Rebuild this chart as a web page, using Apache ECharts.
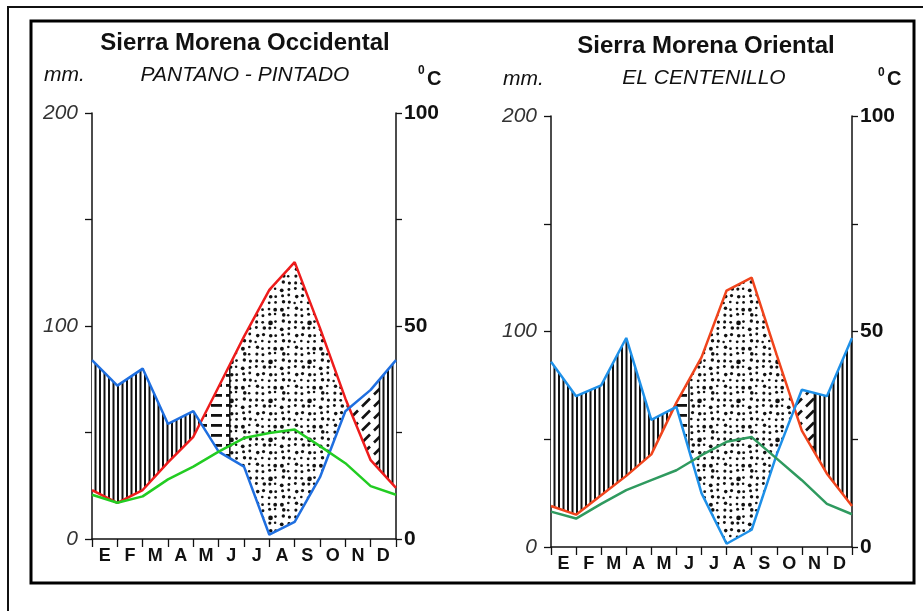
<!DOCTYPE html>
<html>
<head>
<meta charset="utf-8">
<script src="https://cdn.jsdelivr.net/npm/echarts@6/dist/echarts.min.js"></script>
<style>
html, body { margin: 0; padding: 0; background: #fff; }
#chart { width: 923px; height: 611px; }
</style>
</head>
<body>
<div id="chart"></div>
<script>
// meses (etiquetas del eje X)
var meses = ['E', 'F', 'M', 'A', 'M', 'J', 'J', 'A', 'S', 'O', 'N', 'D'];

// Sierra Morena Occidental - Pantano Pintado (13 puntos, en los limites de mes)
var precOcc = [84, 72, 80, 54, 60, 41, 34, 2, 8, 29, 60, 70, 84];          // mm
var etpOcc  = [23, 17, 23, 36, 48, 71.5, 95, 117, 130, 99, 66, 37, 24];    // mm
var tempOcc = [10.4, 8.5, 10, 14, 17, 20.5, 23.7, 24.9, 25.7, 21.8, 17.8, 12.4, 10.4]; // ºC
var usoFinOcc = 5.44, recargaFinOcc = 11.35;

// Sierra Morena Oriental - El Centenillo
var precOri = [86, 70, 75, 97, 59, 65, 25, 1.5, 8, 43, 73, 70, 97];
var etpOri  = [19, 15, 24, 33, 43, 67, 88, 119, 125, 89, 54, 34, 19];
var tempOri = [8.2, 6.6, 10, 13.2, 15.5, 17.8, 21.3, 24.4, 25.5, 20.5, 15.5, 10, 7.6];
var usoFinOri = 5.5, recargaFinOri = 10.5;

var chart = echarts.init(document.getElementById('chart'));

// tramas de relleno
function hacerCanvas(w, h, dibujar) {
	var c = document.createElement('canvas');
	c.width = w; c.height = h;
	var ctx = c.getContext('2d');
	ctx.fillStyle = '#fff';
	ctx.fillRect(0, 0, w, h);
	ctx.fillStyle = '#111';
	ctx.strokeStyle = '#111';
	dibujar(ctx);
	return c;
}
var tramas = {
	vert: hacerCanvas(9, 9, function (ctx) {
		ctx.fillRect(0, 0, 2, 9);
		ctx.fillRect(4.5, 0, 2, 9);
	}),
	hdash: hacerCanvas(15, 10, function (ctx) {
		ctx.fillRect(1, 4, 11, 2.8);
	}),
	diag: hacerCanvas(12, 12, function (ctx) {
		ctx.lineWidth = 2.6;
		ctx.beginPath();
		ctx.moveTo(2, 10.5);
		ctx.lineTo(10, 2.5);
		ctx.stroke();
	}),
	dots: hacerCanvas(39, 39, function (ctx) {
		for (var i = 0; i < 6; i++) {
			for (var j = 0; j < 6; j++) {
				var h = Math.sin(i * 12.9898 + j * 78.233) * 43758.5453;
				h = h - Math.floor(h);
				var g = Math.sin(i * 39.346 + j * 11.135) * 24634.6345;
				g = g - Math.floor(g);
				var r = 1.25 + h * 0.6 + (g > 0.9 ? 0.6 : 0);
				ctx.beginPath();
				ctx.arc(i * 6.5 + 3.25 + (h - 0.5) * 2.4, j * 6.5 + 3.25 + (g - 0.5) * 2.4, r, 0, Math.PI * 2);
				ctx.fill();
			}
		}
	})
};

function valor(arr, x) {
	var i = Math.min(Math.floor(x), arr.length - 2);
	var t = x - i;
	return arr[i] + (arr[i + 1] - arr[i]) * t;
}
function cruces(p, e) {
	var res = [];
	for (var i = 0; i < p.length - 1; i++) {
		var d0 = p[i] - e[i], d1 = p[i + 1] - e[i + 1];
		if (d0 * d1 < 0) res.push(i + d0 / (d0 - d1));
	}
	return res;
}

function serieRelleno(idx, p, e, usoFin, recargaFin) {
	var c = cruces(p, e);
	var regiones = [
		{x0: 0, x1: c[0], trama: 'vert'},
		{x0: c[0], x1: usoFin, trama: 'hdash'},
		{x0: usoFin, x1: c[1], trama: 'dots', borde: true},
		{x0: c[1], x1: recargaFin, trama: 'diag'},
		{x0: recargaFin, x1: 12, trama: 'vert', borde: true}
	];
	return {
		type: 'custom',
		xAxisIndex: idx * 2,
		yAxisIndex: idx * 2,
		z: 1,
		silent: true,
		data: regiones.map(function (r, i) { return [i, 0]; }),
		renderItem: function (params, api) {
			var r = regiones[params.dataIndex];
			var xs = [r.x0, r.x1];
			for (var i = 1; i < p.length - 1; i++) if (i > r.x0 && i < r.x1) xs.push(i);
			c.forEach(function (x) { if (x > r.x0 && x < r.x1) xs.push(x); });
			xs.sort(function (a, b) { return a - b; });
			var arriba = xs.map(function (x) { return api.coord([x, Math.max(valor(p, x), valor(e, x))]); });
			var abajo = xs.slice().reverse().map(function (x) { return api.coord([x, Math.min(valor(p, x), valor(e, x))]); });
			var hijos = [{
				type: 'polygon',
				shape: {points: arriba.concat(abajo)},
				style: {fill: {image: tramas[r.trama], repeat: 'repeat'}, stroke: null}
			}];
			if (r.borde) {
				var fondo = abajo[abajo.length - 1];
				hijos.push({
					type: 'line',
					shape: {x1: arriba[0][0], y1: arriba[0][1], x2: fondo[0], y2: fondo[1]},
					style: {stroke: '#111', lineWidth: 1.5}
				});
			}
			return {type: 'group', children: hijos};
		}
	};
}

function serieLinea(datos, color, xIdx, yIdx) {
	return {
		type: 'line',
		xAxisIndex: xIdx,
		yAxisIndex: yIdx,
		data: datos.map(function (v, i) { return [i, v]; }),
		symbol: 'none',
		lineStyle: {color: color, width: 2.5},
		z: 5,
		silent: true
	};
}

var ejeNegro = {show: true, lineStyle: {color: '#111', width: 1.5}};

function ejesX(grid) {
	return [
		{gridIndex: grid, type: 'value', min: 0, max: 12, show: false},
		{
			gridIndex: grid, type: 'category', data: meses, boundaryGap: true, position: 'bottom',
			axisLine: ejeNegro,
			axisTick: {show: true, length: 8, inside: false, lineStyle: {color: '#111', width: 1.3}},
			axisLabel: {color: '#111', fontSize: 18, fontWeight: 'bold', fontFamily: 'Liberation Sans', margin: 8},
			splitLine: {show: false}
		}
	];
}
function ejesY(grid) {
	return [
		{
			gridIndex: grid, type: 'value', min: 0, max: 200, interval: 50, position: 'left',
			axisLine: ejeNegro,
			axisTick: {show: true, length: 7, inside: false, lineStyle: {color: '#111', width: 1.3}},
			axisLabel: {
				color: '#333', fontSize: 21, fontStyle: 'italic', fontFamily: 'Liberation Sans', margin: 14,
				formatter: function (v) { return v % 100 === 0 ? v : ''; }
			},
			splitLine: {show: false}
		},
		{
			gridIndex: grid, type: 'value', min: 0, max: 100, interval: 25, position: 'right',
			axisLine: ejeNegro,
			axisTick: {show: true, length: 6, inside: false, lineStyle: {color: '#111', width: 1.3}},
			axisLabel: {
				color: '#111', fontSize: 21, fontWeight: 'bold', fontFamily: 'Liberation Sans', margin: 8,
				formatter: function (v) { return v % 50 === 0 ? v : ''; }
			},
			splitLine: {show: false}
		}
	];
}

function texto(x, y, t, font, align) {
	return {
		type: 'text', x: x, y: y, silent: true,
		style: {text: t, font: font, fill: '#111', textAlign: align || 'center', textVerticalAlign: 'middle'}
	};
}

var fuenteTitulo = 'bold 24px "Liberation Sans", Arial, sans-serif';
var fuenteSub = 'italic 21px "Liberation Sans", Arial, sans-serif';

var option = {
	animation: false,
	backgroundColor: '#fff',
	grid: [
		{left: 92, right: 527, top: 113, bottom: 72},
		{left: 551, right: 71, top: 116, bottom: 64}
	],
	xAxis: ejesX(0).concat(ejesX(1)),
	yAxis: ejesY(0).concat(ejesY(1)),
	graphic: [
		{type: 'rect', shape: {x: 8, y: 7, width: 1000, height: 1000}, style: {fill: null, stroke: '#111', lineWidth: 2}, silent: true},
		{type: 'rect', shape: {x: 31, y: 21, width: 883, height: 562}, style: {fill: null, stroke: '#000', lineWidth: 3}, silent: true},
		texto(245, 43, 'Sierra Morena Occidental', fuenteTitulo),
		texto(245, 75, 'PANTANO - PINTADO', fuenteSub),
		texto(44, 75, 'mm.', fuenteSub, 'left'),
		texto(418, 71, '0', 'bold 12px "Liberation Sans", Arial, sans-serif', 'left'),
		texto(427, 79, 'C', 'bold 20px "Liberation Sans", Arial, sans-serif', 'left'),
		texto(706, 46, 'Sierra Morena Oriental', fuenteTitulo),
		texto(704, 78, 'EL CENTENILLO', fuenteSub),
		texto(503, 79, 'mm.', fuenteSub, 'left'),
		texto(878, 73, '0', 'bold 12px "Liberation Sans", Arial, sans-serif', 'left'),
		texto(887, 79, 'C', 'bold 20px "Liberation Sans", Arial, sans-serif', 'left')
	],
	series: [
		serieRelleno(0, precOcc, etpOcc, usoFinOcc, recargaFinOcc),
		serieLinea(etpOcc, '#ee1c1c', 0, 0),
		serieLinea(precOcc, '#1f6fe0', 0, 0),
		serieLinea(tempOcc, '#22cc22', 0, 1),
		serieRelleno(1, precOri, etpOri, usoFinOri, recargaFinOri),
		serieLinea(etpOri, '#f0441c', 2, 2),
		serieLinea(precOri, '#1e90e8', 2, 2),
		serieLinea(tempOri, '#2f9a5f', 2, 3)
	]
};
chart.setOption(option);
</script>
</body>
</html>
